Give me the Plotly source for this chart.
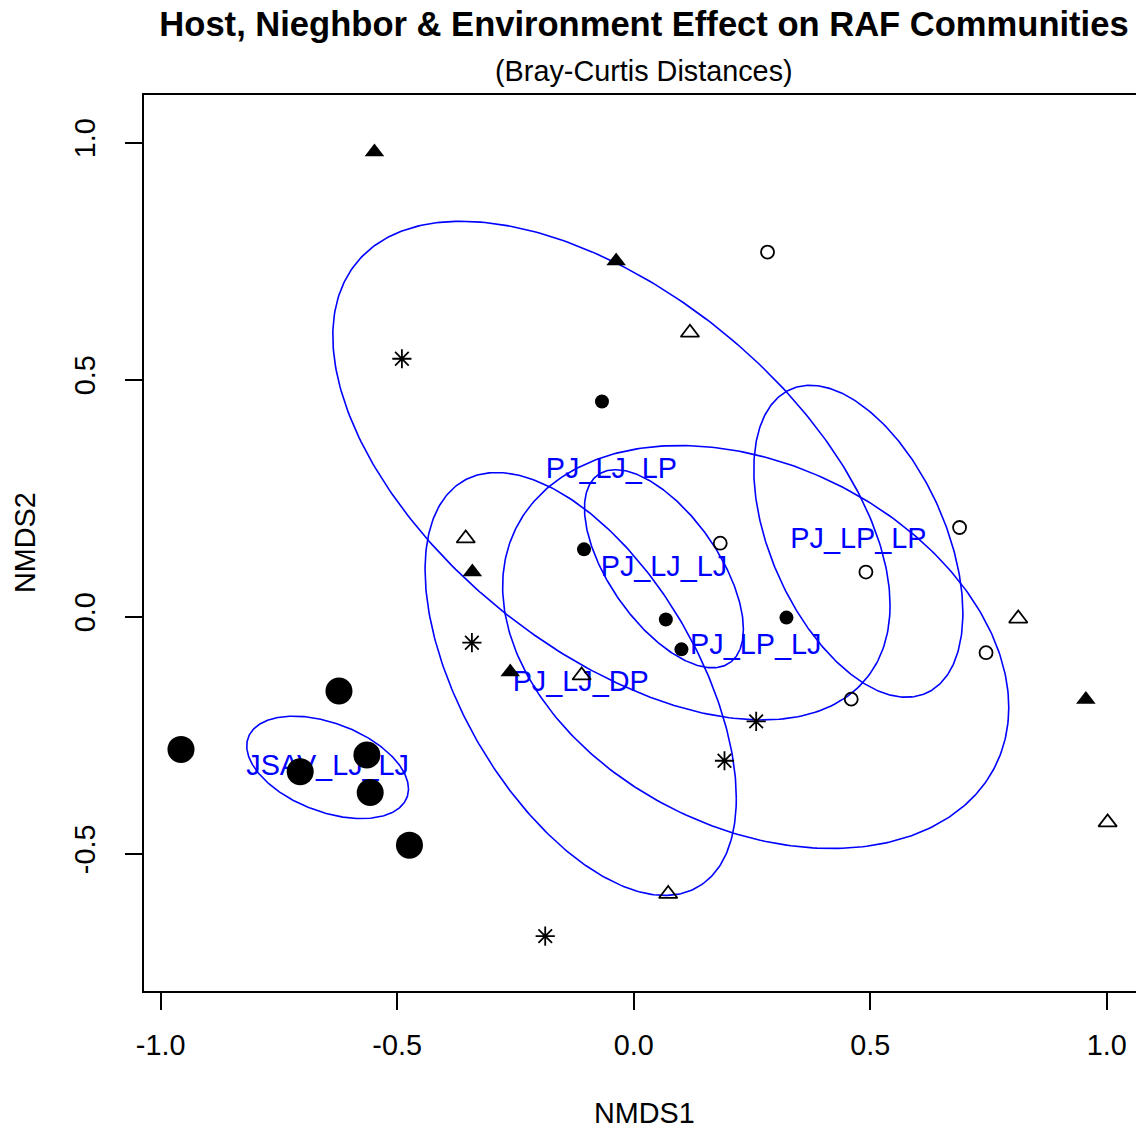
import numpy as np
import plotly.graph_objects as go

FONT = "Liberation Sans, Arial, Helvetica, sans-serif"
BLUE = "#0000FF"

# ---- NMDS site scores, grouped by plotting symbol ----
big_x = [-0.957, -0.705, -0.623, -0.564, -0.557, -0.474]
big_y = [-0.280, -0.327, -0.157, -0.292, -0.371, -0.482]

tri_fill_x = [-0.548, -0.037, -0.341, -0.261, 0.956]
tri_fill_y = [0.980, 0.750, 0.094, -0.117, -0.175]

tri_open_x = [0.119, -0.355, -0.110, 0.073, 0.813, 1.002]
tri_open_y = [0.599, 0.165, -0.124, -0.585, -0.004, -0.434]

dot_x = [-0.067, -0.105, 0.068, 0.101, 0.323]
dot_y = [0.454, 0.142, -0.006, -0.069, -0.002]

circ_open_x = [0.283, 0.183, 0.491, 0.689, 0.745, 0.460]
circ_open_y = [0.769, 0.155, 0.094, 0.188, -0.076, -0.174]

star_x = [-0.490, -0.342, 0.259, 0.192, -0.187]
star_y = [0.544, -0.055, -0.221, -0.304, -0.674]

# ---- group centroids and standard-deviation ellipse statistics ----
groups = ["JSAV_LJ_LJ", "PJ_LJ_DP", "PJ_LJ_LJ", "PJ_LJ_LP", "PJ_LP_LJ", "PJ_LP_LP"]
grp_cx = [-0.647, -0.112, 0.064, -0.047, 0.258, 0.475]
grp_cy = [-0.318, -0.142, 0.101, 0.308, -0.064, 0.159]
grp_sdx = [0.171, 0.329, 0.168, 0.589, 0.535, 0.221]
grp_sdy = [0.108, 0.446, 0.209, 0.526, 0.425, 0.329]
grp_rho = [-0.42, -0.54, -0.61, -0.54, -0.30, -0.46]

x_tick_vals = [-1.0, -0.5, 0.0, 0.5, 1.0]
x_tick_text = ["-1.0", "-0.5", "0.0", "0.5", "1.0"]
y_tick_vals = [-0.5, 0.0, 0.5, 1.0]
y_tick_text = ["-0.5", "0.0", "0.5", "1.0"]

# page body margin compensation
OFF = 8
W, H = 1144 - OFF, 1130 - OFF
PL, PT, PB = 144 - OFF, 95 - OFF, 991 - OFF   # plot area edges in figure px
PW, PH = W - PL, PB - PT

fig = go.Figure()

# ellipses (1 SD) computed from group covariance
t = np.linspace(0, 2 * np.pi, 361)
for cx, cy, sx, sy, r in zip(grp_cx, grp_cy, grp_sdx, grp_sdy, grp_rho):
    ex = cx + sx * np.cos(t)
    ey = cy + sy * (r * np.cos(t) + np.sqrt(1 - r * r) * np.sin(t))
    fig.add_trace(go.Scatter(x=ex, y=ey, mode="lines",
                             line=dict(color=BLUE, width=1.6),
                             hoverinfo="skip"))

# group labels at centroids
fig.add_trace(go.Scatter(x=grp_cx, y=grp_cy, mode="text", text=groups,
                         textposition="middle center",
                         textfont=dict(color=BLUE, size=28.8, family=FONT),
                         hoverinfo="skip"))

LW = 1.8
fig.add_trace(go.Scatter(x=big_x, y=big_y, mode="markers",
                         marker=dict(symbol="circle", size=27, color="black",
                                     line=dict(width=0))))
fig.add_trace(go.Scatter(x=dot_x, y=dot_y, mode="markers",
                         marker=dict(symbol="circle", size=14, color="black",
                                     line=dict(width=0))))
fig.add_trace(go.Scatter(x=circ_open_x, y=circ_open_y, mode="markers",
                         marker=dict(symbol="circle-open", size=13, color="black",
                                     line=dict(width=LW, color="black"))))
fig.add_trace(go.Scatter(x=tri_fill_x, y=tri_fill_y, mode="markers",
                         marker=dict(symbol="triangle-up", size=17, color="black",
                                     line=dict(width=0))))
fig.add_trace(go.Scatter(x=tri_open_x, y=tri_open_y, mode="markers",
                         marker=dict(symbol="triangle-up-open", size=16, color="black",
                                     line=dict(width=LW, color="black"))))
fig.add_trace(go.Scatter(x=star_x, y=star_y, mode="markers",
                         marker=dict(symbol="asterisk-open", size=16, color="black",
                                     line=dict(width=LW, color="black"))))

axis_common = dict(
    showline=True, linecolor="black", linewidth=1.8,
    ticks="outside", ticklen=17, tickwidth=1.8, tickcolor="black",
    showgrid=False, zeroline=False,
    tickfont=dict(size=28.8, family=FONT, color="black"),
)

fig.update_layout(
    width=W, height=H,
    margin=dict(l=PL, r=0, t=PT, b=H - PB, pad=0),
    paper_bgcolor="white", plot_bgcolor="white",
    showlegend=False,
    font=dict(family=FONT, color="black", size=28.8),
    title=dict(text="<b>Host, Nieghbor & Environment Effect on RAF Communities</b>",
               x=0.5, xref="paper", xanchor="center",
               y=1 - (24 - OFF) / H, yref="container", yanchor="middle",
               font=dict(size=34.56, family=FONT, color="black")),
    xaxis=dict(range=[-1.0352, 1.0789], tickvals=x_tick_vals, ticktext=x_tick_text,
               mirror=True, ticklabelstandoff=11, **axis_common),
    yaxis=dict(range=[-0.7897, 1.1004], tickvals=y_tick_vals, ticktext=y_tick_text,
               tickangle=-90, mirror=False, ticklabelstandoff=19, **axis_common),
    annotations=[
        dict(text="(Bray-Curtis Distances)", x=0.5, xref="paper", xanchor="center",
             y=1 + (PT - (71 - OFF)) / PH, yref="paper", yanchor="middle", showarrow=False,
             font=dict(size=28.8, family=FONT, color="black")),
        dict(text="NMDS1", x=0.5, xref="paper", xanchor="center",
             y=-((1113 - OFF) - PB) / PH, yref="paper", yanchor="middle", showarrow=False,
             font=dict(size=28.8, family=FONT, color="black")),
        dict(text="NMDS2", x=((25 - OFF) - PL) / PW, xref="paper", xanchor="center",
             y=0.5, yref="paper", yanchor="middle", showarrow=False,
             textangle=-90, font=dict(size=28.8, family=FONT, color="black")),
    ],
)

fig.write_html("out.html")
